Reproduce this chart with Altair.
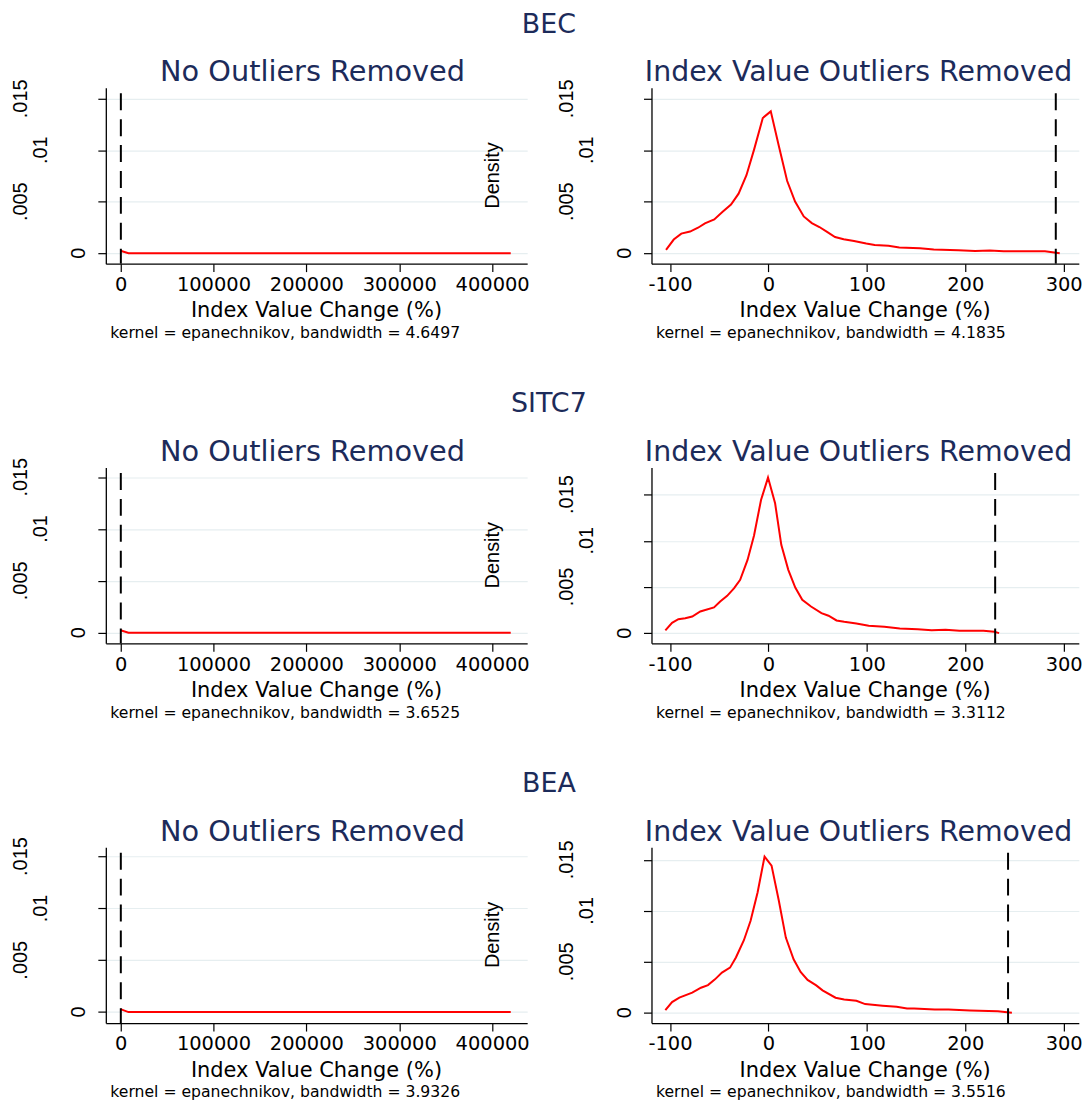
import altair as alt
import pandas as pd

# ---------------- data ----------------
ROWS = ["BEC", "SITC7", "BEA"]
LEFT_TITLE = "No Outliers Removed"
RIGHT_TITLE = "Index Value Outliers Removed"
X_TITLE = "Index Value Change (%)"
Y_TITLE = "Density"
BW_LEFT = ["4.6497", "3.6525", "3.9326"]
BW_RIGHT = ["4.1835", "3.3112", "3.5516"]
CUTOFF = [292, 230.4, 243.5]

Y_TICKS = [0, 0.005, 0.01, 0.015]
Y_LABELS = ["0", ".005", ".01", ".015"]
LEFT_X_TICKS = [0, 100000, 200000, 300000, 400000]
RIGHT_X_TICKS = [-100, 0, 100, 200, 300]

# full-range densities (no outliers removed)
FULL_X = [-104, 8500, 420000]
FULL_Y = {
    "BEC": [0.00024, 0.0, 0.0],
    "SITC7": [0.00024, 0.0, 0.0],
    "BEA": [0.00028, 0.0, 0.0],
}

# trimmed densities (index value outliers removed)
BEC_X = [-104, -96.2, -88.5, -79.6, -71.5, -64.5, -55, -46.8, -38, -30.3, -22.3, -14.5,
         -5.7, 2.4, 10.6, 19, 27.1, 35.9, 44.1, 51.8, 59.6, 67.7, 76.5, 87, 99.4, 108,
         122, 133, 154, 168, 193, 210, 225, 239, 263, 281, 296]
BEC_Y = [0.00032, 0.00132, 0.0019, 0.0021, 0.00247, 0.0029, 0.00328, 0.0040, 0.00472,
         0.00578, 0.00758, 0.01009, 0.01314, 0.01378, 0.01041, 0.00703, 0.00501, 0.00357,
         0.00292, 0.00254, 0.00206, 0.00157, 0.00135, 0.00119, 0.00093, 0.0008, 0.00071,
         0.00055, 0.00048, 0.00035, 0.00029, 0.00022, 0.00026, 0.00019, 0.00019, 0.00019, 0.0]

SITC_X = [-104.7, -97.9, -91.5, -84.5, -77.4, -69.2, -55.3, -49, -41.9, -34.8, -28.7, -21.2,
          -14.6, -7.5, -0.4, 6.8, 13.1, 20.2, 27.3, 34.4, 43.3, 53.9, 61.1, 69.2, 77, 89.4,
          101.9, 117.8, 133.5, 151.7, 165.9, 180, 194.2, 218.5, 229.6, 234.4]
SITC_Y = [0.00029, 0.00112, 0.00151, 0.00162, 0.0018, 0.00234, 0.00278, 0.00343, 0.00404,
          0.00487, 0.00577, 0.00793, 0.01057, 0.01442, 0.01684, 0.01406, 0.00956, 0.00685,
          0.00494, 0.00361, 0.00288, 0.00216, 0.00188, 0.00137, 0.00123, 0.00105, 0.00079,
          0.00069, 0.0005, 0.00043, 0.00032, 0.00036, 0.00025, 0.00025, 0.00014, 0.0]

BEA_X = [-104.7, -97.9, -90.5, -77.4, -68.5, -61.4, -54.3, -47.2, -39, -33, -24.9, -18.1,
         -11, -3.9, 3.2, 10.6, 17.7, 25.6, 32.7, 39.8, 48.6, 55, 68.2, 77, 89.4, 98.3, 116,
         130.3, 140.9, 148, 169, 183, 204.8, 233.1, 247.4]
BEA_Y = [0.00026, 0.00105, 0.00148, 0.00197, 0.00246, 0.00272, 0.00328, 0.00394, 0.00443,
         0.00542, 0.00712, 0.00903, 0.01181, 0.01533, 0.01444, 0.01099, 0.00738, 0.00525,
         0.004, 0.00322, 0.00269, 0.0022, 0.00148, 0.00131, 0.00118, 0.00085, 0.00069,
         0.00059, 0.00043, 0.00043, 0.00033, 0.00033, 0.00023, 0.00016, 0.0]

TRIM = {"BEC": (BEC_X, BEC_Y), "SITC7": (SITC_X, SITC_Y), "BEA": (BEA_X, BEA_Y)}

LEFT_X_DOMAIN = [-15900, 437700]
RIGHT_X_DOMAIN = [-118.8, 315.4]
Y_DOM_LEFT = [[-0.00102, 0.01607], [-0.00103, 0.01593], [-0.00106, 0.0159]]
Y_DOM_RIGHT = [[-0.00102, 0.01607], [-0.00111, 0.01793], [-0.00101, 0.01624]]

# ---------------- styling ----------------
W_LEFT, W_RIGHT, H = 423, 429, 176.5
NAVY = "#1c2b5a"
WIDE = "DejaVu Sans"
NARROW = "Liberation Sans Narrow, Arial Narrow, Liberation Sans, sans-serif"
LABEL_DIST = {"0": 21, ".005": 79, ".01": 59, ".015": 79}


def text_layer(txt, x, y, size, font=WIDE, color="black", align="center",
               baseline="alphabetic", angle=0):
    return alt.Chart(pd.DataFrame({"t": [txt]})).mark_text(
        font=font, fontSize=size, color=color, align=align, baseline=baseline, angle=angle
    ).encode(x=alt.value(x), y=alt.value(y), text="t:N")


def panel(xs, ys, cutoff, xdomain, xticks, ydomain, width, title, title_size, title_dx,
          note, row_title=None, density=False):
    df = pd.DataFrame({"x": xs, "y": ys})
    x_enc = alt.X(
        "x:Q",
        scale=alt.Scale(domain=xdomain, nice=False, zero=False),
        axis=alt.Axis(values=xticks, title=None, grid=False, labelExpr="'' + datum.value",
                      labelFont=WIDE, labelFontSize=19.5, labelColor="black", labelPadding=4,
                      labelFlush=False, labelOverlap=False, tickSize=8, tickWidth=1.2,
                      tickColor="black", domainColor="black", domainWidth=1.3),
    )
    y_enc = alt.Y(
        "y:Q",
        scale=alt.Scale(domain=ydomain, nice=False, zero=False),
        axis=alt.Axis(values=Y_TICKS, labels=False, title=None, grid=True,
                      gridColor="#e6eef0", gridWidth=1.2, tickSize=8, tickWidth=1.2,
                      tickColor="black", domainColor="black", domainWidth=1.3),
    )
    line = alt.Chart(df).mark_line(color="#ff0000", strokeWidth=2).encode(x=x_enc, y=y_enc)
    rule = alt.Chart(pd.DataFrame({"x": [cutoff]})).mark_rule(
        color="black", strokeWidth=2, strokeDash=[17, 9]
    ).encode(x="x:Q", y=alt.value(5.5), y2=alt.value(H))

    layers = [line, rule]
    for val, lab in zip(Y_TICKS, Y_LABELS):
        layers.append(
            alt.Chart(pd.DataFrame({"y": [val], "t": [lab]})).mark_text(
                font=NARROW, fontSize=20, color="black", angle=270,
                align="center", baseline="alphabetic"
            ).encode(x=alt.value(-LABEL_DIST[lab]), y="y:Q", text="t:N")
        )
    layers.append(text_layer(title, width / 2 + title_dx, -6.5, title_size, color=NAVY))
    layers.append(text_layer(X_TITLE, width / 2, 224.5, 21, baseline="middle"))
    layers.append(text_layer(note, 4.5, 246, 15.7, align="left", baseline="middle"))
    if density:
        layers.append(text_layer(Y_TITLE, 395, 88, 20, font=NARROW, angle=270))
    if row_title:
        layers.append(text_layer(row_title, 444.8, -55.5, 27, color=NAVY))
    return alt.layer(*layers).properties(width=width, height=H)


panels = []
for i, name in enumerate(ROWS):
    panels.append(panel(
        FULL_X, FULL_Y[name], CUTOFF[i], LEFT_X_DOMAIN, LEFT_X_TICKS, Y_DOM_LEFT[i], W_LEFT,
        LEFT_TITLE, 28.9, -4, f"kernel = epanechnikov, bandwidth = {BW_LEFT[i]}",
        row_title=name, density=True))
    tx, ty = TRIM[name]
    panels.append(panel(
        tx, ty, CUTOFF[i], RIGHT_X_DOMAIN, RIGHT_X_TICKS, Y_DOM_RIGHT[i], W_RIGHT,
        RIGHT_TITLE, 28.5, -6.7, f"kernel = epanechnikov, bandwidth = {BW_RIGHT[i]}"))

chart = alt.concat(
    *panels, columns=2, spacing={"row": 204.2, "column": 124.8}, bounds="flush"
).properties(
    padding={"left": 3.2, "top": 0, "right": 0, "bottom": 0},
    background="white",
).configure_view(stroke=None)

chart.save("out.html", embed_options={"renderer": "svg", "actions": False})
